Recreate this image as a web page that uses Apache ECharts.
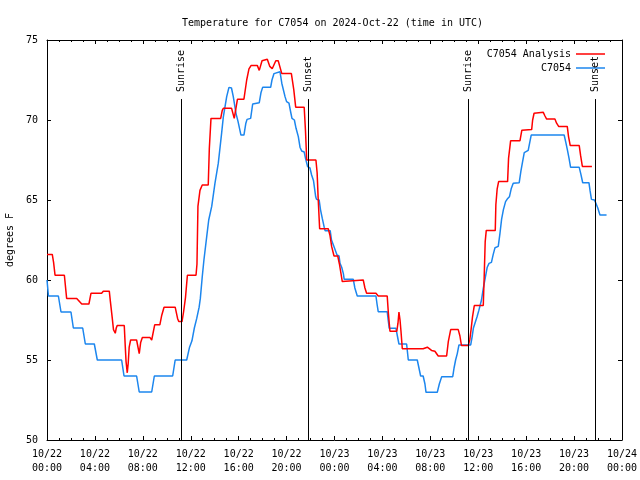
<!DOCTYPE html>
<html>
<head>
<meta charset="utf-8">
<script src="https://cdn.jsdelivr.net/npm/echarts@6/dist/echarts.min.js"></script>
<style>html,body{margin:0;padding:0;background:#fff}#c{width:640px;height:480px}</style>
</head>
<body>
<div id="c"></div>
<script>
// hours since 2024-10-22 00:00 UTC, degrees F
const analysisData = [
[0,61.6],[0.44,61.6],[0.55,61.1],[0.67,60.3],[1.45,60.3],[1.64,58.85],[2.48,58.85],[2.9,58.5],[3.5,58.5],[3.67,59.17],[4.56,59.17],[4.7,59.3],[5.2,59.3],[5.3,58.6],[5.45,57.6],[5.55,56.9],[5.7,56.67],[5.78,57.0],[5.86,57.15],[6.45,57.15],[6.53,55.9],[6.6,54.9],[6.7,54.2],[6.78,54.8],[6.86,55.8],[6.98,56.25],[7.48,56.25],[7.7,55.4],[7.82,56.1],[7.96,56.4],[8.6,56.4],[8.74,56.25],[8.99,57.2],[9.42,57.2],[9.58,57.8],[9.77,58.3],[10.7,58.3],[10.9,57.6],[11.0,57.4],[11.27,57.4],[11.4,58.0],[11.56,58.9],[11.72,60.3],[12.44,60.3],[12.52,61.0],[12.6,64.6],[12.77,65.6],[12.96,65.94],[13.46,65.94],[13.55,68.2],[13.69,70.1],[14.5,70.1],[14.63,70.6],[14.72,70.73],[15.41,70.73],[15.63,70.1],[15.75,70.0],[15.9,71.3],[16.44,71.3],[16.67,72.5],[16.86,73.2],[17.03,73.4],[17.56,73.4],[17.72,73.1],[17.95,73.7],[18.39,73.8],[18.6,73.35],[18.8,73.2],[19.1,73.7],[19.3,73.7],[19.6,72.9],[20.4,72.9],[20.6,71.9],[20.76,70.8],[21.47,70.8],[21.58,69.3],[21.68,67.5],[22.45,67.5],[22.55,66.7],[22.63,65.2],[22.76,63.2],[23.48,63.2],[23.62,62.8],[23.76,62.1],[23.96,61.5],[24.27,61.5],[24.41,61.0],[24.52,60.5],[24.65,59.9],[26.4,60.0],[26.54,59.5],[26.68,59.17],[27.46,59.17],[27.65,59.0],[28.4,59.0],[28.5,57.9],[28.63,56.8],[29.2,56.8],[29.3,57.3],[29.38,58.0],[29.47,57.5],[29.55,56.8],[29.66,55.7],[31.4,55.7],[31.75,55.8],[32.1,55.6],[32.38,55.55],[32.66,55.25],[33.36,55.25],[33.5,56.15],[33.7,56.9],[34.33,56.9],[34.47,56.5],[34.6,55.9],[35.17,55.9],[35.3,56.3],[35.4,56.9],[35.52,57.7],[35.67,58.4],[36.42,58.4],[36.5,60.3],[36.58,62.4],[36.67,63.1],[37.42,63.1],[37.47,64.7],[37.58,65.7],[37.7,66.15],[38.45,66.15],[38.53,67.6],[38.64,68.3],[38.7,68.7],[39.48,68.7],[39.64,69.36],[39.76,69.4],[40.46,69.4],[40.54,70.0],[40.66,70.42],[40.74,70.48],[41.43,70.48],[41.57,70.25],[41.71,70.06],[42.4,70.06],[42.54,69.8],[42.71,69.6],[43.43,69.6],[43.54,68.95],[43.68,68.4],[44.43,68.4],[44.54,67.8],[44.69,67.1],[45.49,67.1]
];
const obsData = [
[0,60],[0.12,59],[0.95,59],[1.17,58],[2.0,58],[2.2,57],[2.98,57],[3.2,56],[3.95,56],[4.2,55],[6.23,55],[6.43,54],[7.48,54],[7.7,53],[8.74,53],[8.96,54],[10.49,54],[10.7,55],[11.66,55],[11.9,55.8],[12.1,56.2],[12.3,57],[12.5,57.6],[12.7,58.3],[12.8,58.85],[12.96,60.2],[13.1,61.25],[13.33,62.7],[13.5,63.75],[13.75,64.6],[14.02,66.04],[14.3,67.3],[14.58,69.2],[14.72,70.2],[15.0,71.46],[15.19,72.04],[15.4,72.0],[15.55,71.46],[15.78,70.4],[15.95,69.9],[16.19,69.06],[16.44,69.06],[16.6,69.8],[16.7,70.04],[17.0,70.1],[17.17,71.0],[17.72,71.08],[17.86,71.7],[18.0,72.04],[18.67,72.04],[18.78,72.5],[18.95,72.9],[19.06,73.02],[19.45,73.02],[19.6,72.3],[19.87,71.46],[20.0,71.15],[20.2,71.05],[20.34,70.5],[20.45,70.1],[20.65,70.0],[20.79,69.48],[20.98,68.96],[21.12,68.3],[21.26,68.06],[21.47,68.0],[21.58,67.6],[21.76,67.08],[21.95,67.0],[22.09,66.56],[22.25,66.2],[22.43,65.2],[22.5,65.04],[22.72,65.0],[22.83,64.4],[22.98,63.85],[23.14,63.3],[23.22,63.08],[23.64,63.08],[23.75,62.5],[23.96,62.08],[24.1,62.0],[24.21,61.56],[24.38,61.5],[24.46,61.04],[24.6,60.8],[24.74,60.4],[24.81,60.04],[25.57,60.04],[25.7,59.5],[25.9,59.0],[27.46,59.0],[27.55,58.5],[27.65,58.02],[28.4,58.02],[28.48,57.5],[28.57,56.98],[29.13,56.98],[29.25,56.5],[29.38,56.0],[30.02,56.0],[30.16,55.0],[30.91,55.0],[31.05,54.5],[31.19,54.0],[31.4,54.0],[31.55,53.5],[31.64,52.98],[32.58,52.98],[32.75,53.5],[32.95,53.96],[33.87,53.96],[33.98,54.5],[34.11,55.0],[34.25,55.4],[34.39,55.94],[35.37,55.94],[35.5,56.5],[35.59,56.98],[35.75,57.1],[35.9,57.7],[36.05,58.1],[36.27,58.75],[36.42,59.48],[36.6,60.2],[36.75,60.8],[36.9,61.04],[37.1,61.1],[37.25,61.6],[37.4,62.02],[37.67,62.1],[37.81,62.9],[37.95,63.8],[38.1,64.4],[38.28,64.9],[38.42,65.06],[38.6,65.2],[38.75,65.7],[38.92,66.04],[39.42,66.08],[39.56,66.8],[39.68,67.3],[39.84,67.96],[40.17,68.1],[40.3,68.6],[40.42,69.06],[43.17,69.06],[43.31,68.6],[43.45,68.1],[43.58,67.6],[43.71,67.04],[44.43,67.04],[44.57,66.6],[44.72,66.08],[45.24,66.08],[45.33,65.6],[45.45,65.04],[45.7,65.0],[45.82,64.8],[45.98,64.5],[46.16,64.06],[46.71,64.06]
];
const sunTimes = [11.22, 21.78, 35.2, 45.77];
const sunLabels = ['Sunrise', 'Sunset', 'Sunrise', 'Sunset'];
const xTickLabels = ['10/22\n00:00','10/22\n04:00','10/22\n08:00','10/22\n12:00','10/22\n16:00','10/22\n20:00','10/23\n00:00','10/23\n04:00','10/23\n08:00','10/23\n12:00','10/23\n16:00','10/23\n20:00','10/24\n00:00'];
const seriesNames = ['C7054 Analysis', 'C7054'];
const titleText = 'Temperature for C7054 on 2024-Oct-22 (time in UTC)';
const yName = 'degrees F';

const FONT = 'DejaVu Sans Mono';
const lineTop = 71.31;

const sunLines = [];
sunTimes.forEach((t, i) => {
  sunLines.push([{coord: [t, 50], label: {show: false}}, {coord: [t, lineTop]}]);
  sunLines.push([
    {coord: [t, lineTop], lineStyle: {color: 'rgba(0,0,0,0)', width: 0}, label: {show: true, formatter: sunLabels[i], position: 'insideStart', distance: [7, 0], color: '#000', fontFamily: FONT, fontSize: 10}},
    {coord: [t, 75]}
  ]);
});

const xBase = {
  type: 'value', min: 0, max: 48, interval: 4,
  axisLine: {show: true, onZero: false, lineStyle: {color: '#000', width: 1}},
  axisTick: {show: true, inside: true, length: 4, lineStyle: {color: '#000'}},
  minorTick: {show: true, splitNumber: 4, length: 2, lineStyle: {color: '#000'}},
  splitLine: {show: false}, minorSplitLine: {show: false}
};
const yBase = {
  type: 'value', min: 50, max: 75, interval: 5,
  axisLine: {show: true, onZero: false, lineStyle: {color: '#000', width: 1}},
  axisTick: {show: true, inside: true, length: 4, lineStyle: {color: '#000'}},
  splitLine: {show: false}
};

const RED = '#ff0000';
const BLUE = '#1c86ee';

const chart = echarts.init(document.getElementById('c'), null, {renderer: 'canvas'});
chart.setOption({
  animation: false,
  backgroundColor: '#fff',
  textStyle: {fontFamily: FONT},
  title: {text: titleText, left: 177, top: 13, textStyle: {fontFamily: FONT, fontSize: 10, fontWeight: 'normal', color: '#000'}},
  grid: {left: 47, right: 18, top: 40, bottom: 40, containLabel: false, outerBoundsMode: 'none'},
  legend: [
    {data: [seriesNames[0]], right: 30, top: 44, align: 'right', icon: 'rect', itemWidth: 29, itemHeight: 1.5, textStyle: {fontFamily: FONT, fontSize: 10, color: '#000'}},
    {data: [seriesNames[1]], right: 30, top: 58, align: 'right', icon: 'rect', itemWidth: 29, itemHeight: 1.5, textStyle: {fontFamily: FONT, fontSize: 10, color: '#000'}}
  ],
  xAxis: [
    Object.assign({}, xBase, {position: 'bottom', axisLabel: {show: true, margin: 7, fontFamily: FONT, fontSize: 10, color: '#000', lineHeight: 14, formatter: v => xTickLabels[Math.round(v / 4)]}}),
    Object.assign({}, xBase, {position: 'top', axisLabel: {show: false}})
  ],
  yAxis: [
    Object.assign({}, yBase, {position: 'left', name: yName, nameLocation: 'middle', nameGap: 31, nameTextStyle: {fontFamily: FONT, fontSize: 10, color: '#000'}, axisLabel: {show: true, margin: 9, fontFamily: FONT, fontSize: 10, color: '#000'}}),
    Object.assign({}, yBase, {position: 'right', axisLabel: {show: false}})
  ],
  series: [
    {name: seriesNames[0], type: 'line', data: analysisData, symbol: 'none', color: RED, itemStyle: {color: RED}, lineStyle: {width: 1.5, color: RED}, z: 3},
    {name: seriesNames[1], type: 'line', data: obsData, symbol: 'none', color: BLUE, itemStyle: {color: BLUE}, lineStyle: {width: 1.5, color: BLUE}, z: 2},
    {name: 'sun', type: 'line', data: [], symbol: 'none', markLine: {silent: true, symbol: ['none', 'none'], animation: false, lineStyle: {color: '#000', width: 1, type: 'solid'}, label: {show: false}, data: sunLines}}
  ]
});
</script>
</body>
</html>
